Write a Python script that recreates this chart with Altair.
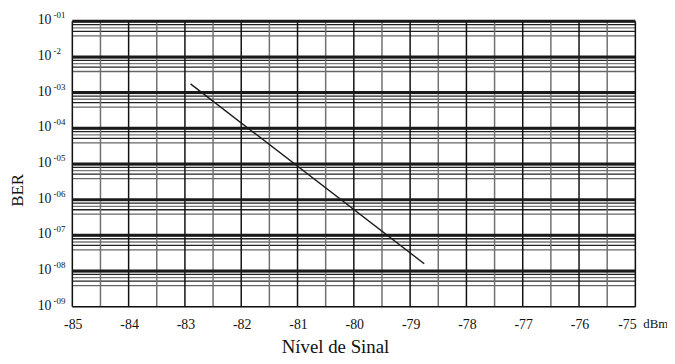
import altair as alt
import pandas as pd

# ---- data ----
x_ticks = [-85, -84, -83, -82, -81, -80, -79, -78, -77, -76, -75]
x_half = [-84.5, -83.5, -82.5, -81.5, -80.5, -79.5, -78.5, -77.5, -76.5, -75.5]
decades = [1e-1, 1e-2, 1e-3, 1e-4, 1e-5, 1e-6, 1e-7, 1e-8, 1e-9]
exponents = ["-01", "-2", "-03", "-04", "-05", "-06", "-07", "-08", "-09"]
minor_factors = [0.93, 0.80, 0.65, 0.52, 0.39]
minor_shade = ["#aaaaaa", "#222222", "#777777", "#222222", "#666666"]
line_x = [-82.9, -78.75]
line_y = [1.75e-3, 1.6e-8]

FONT = "Liberation Serif"

xs = alt.Scale(domain=[-85, -75], nice=False, zero=False)
ys = alt.Scale(type="log", domain=[1e-9, 1e-1], nice=False)

vmaj = pd.DataFrame({"x": x_ticks, "t": [str(v) for v in x_ticks]})
vmin = pd.DataFrame({"x": x_half})
dec = pd.DataFrame({"y": decades, "e": exponents})
dec_thick = dec[dec["y"] > 1e-9]
dec_bottom = dec[dec["y"] == 1e-9]
minor_rows = []
for d in decades[:-1]:
    for f, c in zip(minor_factors, minor_shade):
        minor_rows.append({"y": d * f, "c": c})
minor = pd.DataFrame(minor_rows)
line_df = pd.DataFrame({"x": line_x, "y": line_y})

base_x = alt.X("x:Q", scale=xs, axis=None)
base_y = alt.Y("y:Q", scale=ys, axis=None)

minor_rules = alt.Chart(minor).mark_rule(strokeWidth=1.3).encode(
    y=base_y, color=alt.Color("c:N", scale=None)
)
half_rules = alt.Chart(vmin).mark_rule(strokeWidth=1.5, color="#707070").encode(x=base_x)
major_rules = alt.Chart(vmaj).mark_rule(strokeWidth=1.5, color="#111111").encode(x=base_x)
thick_rules = alt.Chart(dec_thick).mark_rule(strokeWidth=3, color="#1a1a1a").encode(y=base_y)
bottom_rule = alt.Chart(dec_bottom).mark_rule(strokeWidth=1.5, color="#111111").encode(y=base_y)

curve = alt.Chart(line_df).mark_line(strokeWidth=1.4, color="#1a1a1a").encode(x=base_x, y=base_y)

xlabels = alt.Chart(vmaj).transform_filter("datum.x < -75").mark_text(
    font=FONT, fontSize=14, align="center", baseline="top", dx=1, color="#111111"
).encode(x=base_x, y=alt.value(300), text="t:N")
xlabel_last = alt.Chart(vmaj).transform_filter("datum.x == -75").mark_text(
    font=FONT, fontSize=14, align="center", baseline="top", dx=-8, color="#111111"
).encode(x=base_x, y=alt.value(300), text="t:N")
lab10 = alt.Chart(dec).mark_text(font=FONT, fontSize=14, align="left", baseline="alphabetic",
                                 dy=3, color="#111111").encode(
    y=base_y, x=alt.value(-35), text=alt.value("10")
)
labexp = alt.Chart(dec).mark_text(font=FONT, fontSize=9, align="left", baseline="alphabetic",
                                  dy=-3, color="#111111").encode(
    y=base_y, x=alt.value(-19), text="e:N"
)
dbm = alt.Chart(pd.DataFrame({"t": ["dBm"]})).mark_text(
    font=FONT, fontSize=13, align="left", baseline="top", color="#111111"
).encode(x=alt.value(577), y=alt.value(300), text="t:N")
ber = alt.Chart(pd.DataFrame({"t": ["BER"]})).mark_text(
    font=FONT, fontSize=17, align="center", baseline="middle", angle=270, color="#111111"
).encode(x=alt.value(-55), y=alt.value(171), text="t:N")
title = alt.Chart(pd.DataFrame({"t": ["Nível de Sinal"]})).mark_text(
    font=FONT, fontSize=19, align="center", baseline="alphabetic", color="#111111"
).encode(x=alt.value(266), y=alt.value(335), text="t:N")

chart = alt.layer(
    minor_rules, half_rules, major_rules, thick_rules, bottom_rule, curve,
    xlabels, xlabel_last, lab10, labexp, dbm, ber, title
).properties(
    width=569, height=288.5,
    autosize=alt.AutoSizeParams(type="none"),
    padding={"left": 65, "top": 11.5, "right": 32, "bottom": 48},
).configure_view(stroke=None).configure(background="white")

chart.save("out.html", embed_options={"renderer": "svg", "actions": False})
